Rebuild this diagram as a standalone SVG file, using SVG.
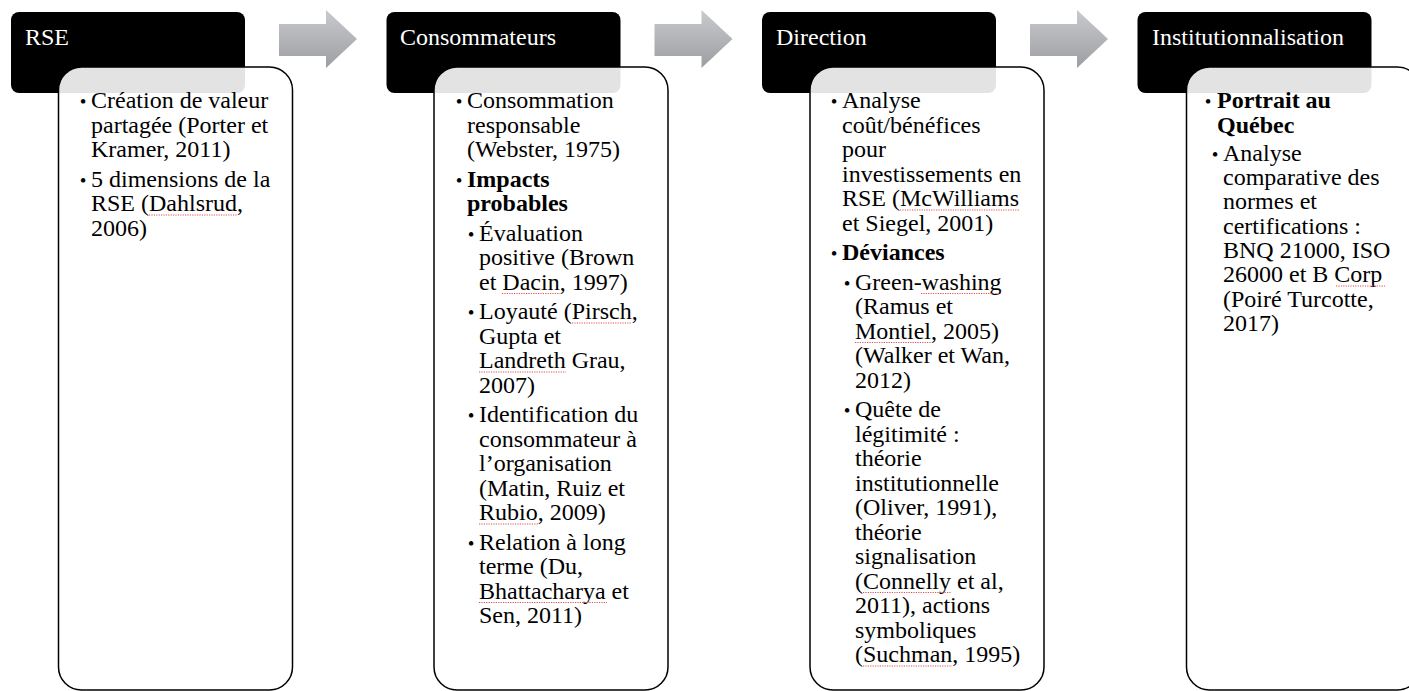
<svg xmlns="http://www.w3.org/2000/svg" width="1409" height="691" viewBox="0 0 1409 691">
<defs>
<linearGradient id="ag" x1="0" y1="0" x2="0" y2="1">
<stop offset="0" stop-color="#c9cacd"/>
<stop offset="1" stop-color="#9c9ea2"/>
</linearGradient>
<style>
.hdr{fill:#000}
.ht{font-family:"Liberation Serif","Times New Roman",serif;font-size:24px;fill:#fff}
.box{fill:#fff;fill-opacity:0.89;stroke:#000;stroke-width:1.5}
.t{font-family:"Liberation Serif","Times New Roman",serif;font-size:24px;fill:#000}
.b{font-weight:bold}
.bl{font-family:"Liberation Serif","Times New Roman",serif;font-size:19px;fill:#000;text-anchor:middle}
.arrow{fill:url(#ag)}
.sp{stroke:#e05050;stroke-width:1.2;stroke-dasharray:1.2 1.2;fill:none}
</style>
</defs>
<rect width="1409" height="691" fill="#fff"/>

<g id="connectors">
<polygon class="arrow" points="279,24 326,24 326,10 357,39 326,68 326,56 279,56"/>
<polygon class="arrow" points="654.5,24 701.5,24 701.5,10 732.5,39 701.5,68 701.5,56 654.5,56"/>
<polygon class="arrow" points="1030,24 1077,24 1077,10 1108,39 1077,68 1077,56 1030,56"/>
</g>

<g id="node-rse">
<rect class="hdr" x="11" y="12" width="234" height="81" rx="8"/>
<text class="ht" x="25" y="45">RSE</text>
<rect class="box" x="58.5" y="67" width="234" height="623" rx="23"/>
<text class="bl" x="83" y="108">•</text>
<text class="t" x="91" y="108">Création de valeur</text>
<text class="t" x="91" y="132.5">partagée (Porter et</text>
<text class="t" x="91" y="157">Kramer, 2011)</text>
<text class="bl" x="83" y="186.5">•</text>
<text class="t" x="91" y="186.5">5 dimensions de la</text>
<text class="t" x="91" y="211">RSE (Dahlsrud,</text>
<text class="t" x="91" y="235.5">2006)</text>
</g>

<g id="node-consommateurs">
<rect class="hdr" x="386.5" y="12" width="234" height="81" rx="8"/>
<text class="ht" x="400" y="45">Consommateurs</text>
<rect class="box" x="434" y="67" width="234" height="623" rx="23"/>
<text class="bl" x="459" y="108">•</text>
<text class="t" x="467" y="108">Consommation</text>
<text class="t" x="467" y="132.5">responsable</text>
<text class="t" x="467" y="157">(Webster, 1975)</text>
<text class="bl" x="459" y="186.5">•</text>
<text class="t b" x="467" y="186.5">Impacts</text>
<text class="t b" x="467" y="211">probables</text>
<text class="bl" x="471" y="240.5">•</text>
<text class="t" x="479" y="240.5">Évaluation</text>
<text class="t" x="479" y="265">positive (Brown</text>
<text class="t" x="479" y="289.5">et Dacin, 1997)</text>
<text class="bl" x="471" y="319">•</text>
<text class="t" x="479" y="319">Loyauté (Pirsch,</text>
<text class="t" x="479" y="343.5">Gupta et</text>
<text class="t" x="479" y="368">Landreth Grau,</text>
<text class="t" x="479" y="392.5">2007)</text>
<text class="bl" x="471" y="422">•</text>
<text class="t" x="479" y="422">Identification du</text>
<text class="t" x="479" y="446.5">consommateur à</text>
<text class="t" x="479" y="471">l’organisation</text>
<text class="t" x="479" y="495.5">(Matin, Ruiz et</text>
<text class="t" x="479" y="520">Rubio, 2009)</text>
<text class="bl" x="471" y="549.5">•</text>
<text class="t" x="479" y="549.5">Relation à long</text>
<text class="t" x="479" y="574">terme (Du,</text>
<text class="t" x="479" y="598.5">Bhattacharya et</text>
<text class="t" x="479" y="623">Sen, 2011)</text>
</g>

<g id="node-direction">
<rect class="hdr" x="762" y="12" width="234" height="81" rx="8"/>
<text class="ht" x="776" y="45">Direction</text>
<rect class="box" x="810" y="67" width="234" height="623" rx="23"/>
<text class="bl" x="834" y="108">•</text>
<text class="t" x="842" y="108">Analyse</text>
<text class="t" x="842" y="132.5">coût/bénéfices</text>
<text class="t" x="842" y="157">pour</text>
<text class="t" x="842" y="181.5">investissements en</text>
<text class="t" x="842" y="206">RSE (McWilliams</text>
<text class="t" x="842" y="230.5">et Siegel, 2001)</text>
<text class="bl" x="834" y="260">•</text>
<text class="t b" x="842" y="260">Déviances</text>
<text class="bl" x="847" y="289.5">•</text>
<text class="t" x="855" y="289.5">Green-washing</text>
<text class="t" x="855" y="314">(Ramus et</text>
<text class="t" x="855" y="338.5">Montiel, 2005)</text>
<text class="t" x="855" y="363">(Walker et Wan,</text>
<text class="t" x="855" y="387.5">2012)</text>
<text class="bl" x="847" y="417">•</text>
<text class="t" x="855" y="417">Quête de</text>
<text class="t" x="855" y="441.5">légitimité :</text>
<text class="t" x="855" y="466">théorie</text>
<text class="t" x="855" y="490.5">institutionnelle</text>
<text class="t" x="855" y="515">(Oliver, 1991),</text>
<text class="t" x="855" y="539.5">théorie</text>
<text class="t" x="855" y="564">signalisation</text>
<text class="t" x="855" y="588.5">(Connelly et al,</text>
<text class="t" x="855" y="613">2011), actions</text>
<text class="t" x="855" y="637.5">symboliques</text>
<text class="t" x="855" y="662">(Suchman, 1995)</text>
</g>

<g id="node-institutionnalisation">
<rect class="hdr" x="1137.5" y="12" width="234" height="81" rx="8"/>
<text class="ht" x="1152" y="45">Institutionnalisation</text>
<rect class="box" x="1186.5" y="67" width="234" height="623" rx="23"/>
<text class="bl" x="1208" y="108">•</text>
<text class="t b" x="1217" y="108">Portrait au</text>
<text class="t b" x="1217" y="132.5">Québec</text>
<text class="bl" x="1215" y="160.5">•</text>
<text class="t" x="1223" y="160.5">Analyse</text>
<text class="t" x="1223" y="185">comparative des</text>
<text class="t" x="1223" y="209">normes et</text>
<text class="t" x="1223" y="233.5">certifications :</text>
<text class="t" x="1223" y="257.5">BNQ 21000, ISO</text>
<text class="t" x="1223" y="282">26000 et B Corp</text>
<text class="t" x="1223" y="306.5">(Poiré Turcotte,</text>
<text class="t" x="1223" y="330.5">2017)</text>
</g>

<g id="spellcheck-marks">
<line class="sp" x1="149" y1="215" x2="237" y2="215"/>
<line class="sp" x1="502" y1="293.5" x2="560" y2="293.5"/>
<line class="sp" x1="572" y1="323" x2="632" y2="323"/>
<line class="sp" x1="479" y1="372" x2="566" y2="372"/>
<line class="sp" x1="479" y1="524" x2="538" y2="524"/>
<line class="sp" x1="479" y1="602.5" x2="607" y2="602.5"/>
<line class="sp" x1="900" y1="210" x2="1020" y2="210"/>
<line class="sp" x1="921" y1="293.5" x2="1001" y2="293.5"/>
<line class="sp" x1="855" y1="342.5" x2="931" y2="342.5"/>
<line class="sp" x1="863" y1="592.5" x2="951" y2="592.5"/>
<line class="sp" x1="863" y1="666" x2="952" y2="666"/>
<line class="sp" x1="1336" y1="286" x2="1385" y2="286"/>
</g>
</svg>
